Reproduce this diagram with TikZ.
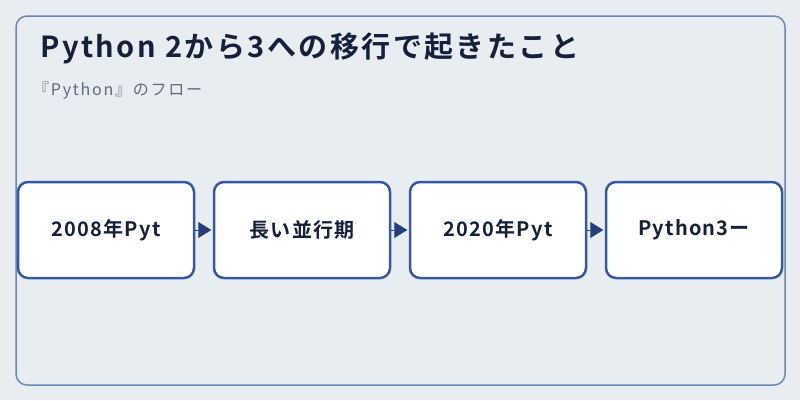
\documentclass[tikz,border=0pt]{standalone}
\usepackage{fontspec}
\setmainfont{Noto Sans CJK JP}
\newfontfamily\jpbold[LetterSpace=8.5]{Noto Sans CJK JP Bold}
\newfontfamily\jpboxf[LetterSpace=6]{Noto Sans CJK JP Bold}
\newfontfamily\jpsub[LetterSpace=11]{Noto Sans CJK JP}
\usetikzlibrary{arrows.meta}
\definecolor{bgc}{HTML}{E8EDF2}
\definecolor{framec}{HTML}{6F86B5}
\definecolor{boxc}{HTML}{3559A0}
\definecolor{arrowc}{HTML}{233E78}
\definecolor{titlec}{HTML}{15203A}
\definecolor{subc}{HTML}{5E6A7E}
\tikzset{
  stepbox/.style={draw=boxc, line width=2.5pt, fill=white, rounded corners=10pt,
    minimum width=176pt, minimum height=96pt, inner sep=0pt,
    font=\jpboxf\fontsize{20}{24}\selectfont, text=titlec},
  conn/.style={draw=arrowc, line width=0.1pt, -{Triangle[length=13pt,width=16pt]}, shorten >=1.5pt, fill=arrowc}
}
\begin{document}
\begin{tikzpicture}[x=1pt,y=-1pt]
\useasboundingbox (0,0) rectangle (800,400);
\fill[bgc] (0,0) rectangle (800,400);
\draw[framec, line width=1.5pt, rounded corners=11pt] (16,16) rectangle (785,385);
\node[anchor=base west, text=titlec, font=\jpbold\fontsize{29}{32}\selectfont, inner sep=0pt] (title) at (40,57) {Python 2から3への移行で起きたこと};
\node[anchor=base west, text=subc, font=\jpsub\fontsize{16}{20}\selectfont, inner sep=0pt] (sub) at (33,95) {『Python』のフロー};
\node[stepbox] (b1) at (106,230) {2008年Pyt};
\node[stepbox] (b2) at (302,230) {長い並行期};
\node[stepbox] (b3) at (498,230) {2020年Pyt};
\node[stepbox] (b4) at (694,230) {Python3ー};
\draw[conn] (b1.east) -- (b2.west);
\draw[conn] (b2.east) -- (b3.west);
\draw[conn] (b3.east) -- (b4.west);
\end{tikzpicture}
\end{document}
